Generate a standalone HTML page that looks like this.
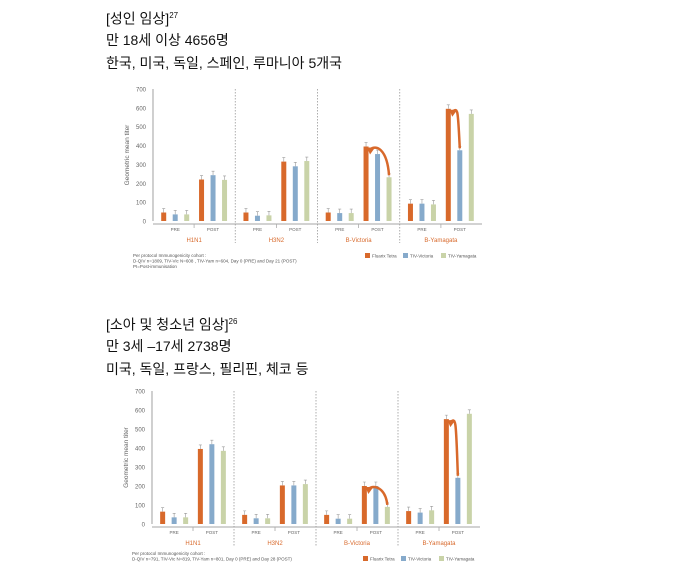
<!DOCTYPE html>
<html><head><meta charset="utf-8">
<style>
body{margin:0;width:678px;height:575px;background:#fff;position:relative;overflow:hidden;font-family:"Liberation Sans","Noto Sans CJK KR",sans-serif;}
.t{position:absolute;left:106px;font-size:14px;color:#111;white-space:nowrap;line-height:16px;}
sup{font-size:8px;}
svg{position:absolute;left:0;top:0;}
</style></head><body>
<div class="t" style="top:8px">[성인 임상]<sup>27</sup></div>
<div class="t" style="top:32px">만 18세 이상 4656명</div>
<div class="t" style="top:55px">한국, 미국, 독일, 스페인, 루마니아 5개국</div>
<div class="t" style="top:314px">[소아 및 청소년 임상]<sup>26</sup></div>
<div class="t" style="top:338px">만 3세 –17세 2738명</div>
<div class="t" style="top:361px">미국, 독일, 프랑스, 필리핀, 체코 등</div>
<svg id="svg" width="678" height="575"></svg>
<script>
const groups=["H1N1","H3N2","B-Victoria","B-Yamagata"];
const groups2=["H1N1","H3N2","B-Victoria","B-Yamagata"];
const phases=["PRE","POST"];
const seriesNames=["Fluarix Tetra","TIV-Victoria","TIV-Yamagata"];
const yTicks=[0,100,200,300,400,500,600,700];
// adult chart: [group][phase][series]
const adultFluarix=[[45,220],[45,315],[45,395],[92,595]];
const adultVictoria=[[35,243],[28,290],[42,355],[92,375]];
const adultYamagata=[[35,218],[30,318],[42,232],[88,568]];
// child chart
const childFluarix=[[65,395],[48,203],[48,200],[68,552]];
const childVictoria=[[35,420],[30,203],[28,200],[60,243]];
const childYamagata=[[35,385],[30,210],[28,90],[72,580]];

const colors=["#d8692b","#86aacb","#c9d3a8"];
const NS="http://www.w3.org/2000/svg";
const svg=document.getElementById('svg');
function mk(tag,attrs,parent){const e=document.createElementNS(NS,tag);for(const k in attrs)e.setAttribute(k,attrs[k]);(parent||svg).appendChild(e);return e;}

function drawChart(cfg,data,foot,name){
  const g=mk('g',{});
  
  
  const y=v=>cfg.y0-(v/700)*(cfg.y0-cfg.y700);
  const gw=(cfg.xr-cfg.xl)/groups.length;
  // axes
  const ax=mk('line',{x1:cfg.xl,y1:cfg.y700,x2:cfg.xl,y2:cfg.y0,stroke:'#888','stroke-width':0.8},g);
  
  const bx=mk('line',{x1:cfg.xl,y1:cfg.y0+3,x2:cfg.xr,y2:cfg.y0+3,stroke:'#888','stroke-width':0.8},g);
  
  yTicks.forEach(t=>{
    const tx=mk('text',{x:cfg.xl-7,y:y(t)+2.5,'font-size':6,fill:'#666','text-anchor':'end'},g);
    tx.textContent=t;
    
  });
  const yt=mk('text',{x:0,y:0,'font-size':6.5,fill:'#666','text-anchor':'middle',transform:`translate(${cfg.xl-24},${(cfg.y0+cfg.y700)/2}) rotate(-90)`},g);
  yt.textContent='Geometric mean titer';
  
  const tops={};
  groups.forEach((gn,gi)=>{
    const gx=cfg.xl+gi*gw;
    if(gi>0){const d=mk('line',{x1:gx,y1:cfg.y700,x2:gx,y2:cfg.y0+22,stroke:'#999','stroke-width':0.8,'stroke-dasharray':'1.5,1.5'},g);
      }
    phases.forEach((ph,pi)=>{
      const px=gx+gw*(pi===0?0.27:0.73);
      const tk=mk('line',{x1:gx+gw*0.5,y1:cfg.y0+3,x2:gx+gw*0.5,y2:cfg.y0+7,stroke:'#aaa','stroke-width':0.6},g);
      
      const pl=mk('text',{x:px,y:cfg.y0+10,'font-size':4.5,fill:'#666','text-anchor':'middle'},g);
      pl.textContent=ph;
      data.forEach((ser,si)=>{
        const v=ser[gi][pi];
        const cx=px+(si-1)*11.5;
        const r=mk('rect',{x:cx-2.5,y:y(v),width:5,height:cfg.y0-y(v),fill:colors[si]},g);
        
        
        const eb=mk('path',{d:`M${cx},${y(v)} V${y(v)-4} M${cx-1.5},${y(v)-4} H${cx+1.5}`,stroke:'#999','stroke-width':0.6,fill:'none'},g);
        
        tops[gi+'-'+pi+'-'+si]=[cx,y(v)];
      });
    });
    const gl=mk('text',{x:gx+gw/2,y:cfg.y0+21,'font-size':6,fill:'#d8692b','text-anchor':'middle'},g);
    gl.textContent=gn;
  });
  // arrows
  [[2,2],[3,1]].forEach(([gi,si])=>{
    const [sx,sy]=tops[gi+'-1-'+si];const [ex,ey]=tops[gi+'-1-0'];
    const a=mk('path',{d:`M${sx},${sy-2} C${sx-2},${ey+2} ${ex+10},${ey-2} ${ex+4},${ey+3}`,stroke:'#d8692b','stroke-width':2.5,fill:'none'},g);
    
    const h=mk('path',{d:`M${ex+1},${ey+1} L${ex+9},${ey+1} L${ex+4},${ey+8} Z`,fill:'#d8692b'},g);
    
  });
  foot.forEach((l,i)=>{
    const f=mk('text',{x:cfg.xl-20,y:cfg.footY+i*5.5,'font-size':4.5,fill:'#555'},g);
    f.textContent=l;
  });
  seriesNames.forEach((s,i)=>{
    const lx=cfg.legX+i*38;
    const r=mk('rect',{x:lx,y:cfg.legY-4,width:5,height:5,fill:colors[i]},g);
    
    const t=mk('text',{x:lx+7,y:cfg.legY+0.5,'font-size':4.5,fill:'#555'},g);
    t.textContent=s;
  });
}
drawChart({xl:153,xr:482,y0:221,y700:89,footY:257,legX:365,legY:257},[adultFluarix,adultVictoria,adultYamagata],
 ["Per protocol Immunogenicity cohort :","D-QIV n=1809, TIV-Vic N=608 , TIV-Yam n=604, Day 0 (PRE) and Day 21 (POST)","PI=Post-immunisation"],'adult-chart');
drawChart({xl:152,xr:480,y0:524,y700:391,footY:555,legX:363,legY:560},[childFluarix,childVictoria,childYamagata],
 ["Per protocol Immunogenicity cohort :","D-QIV n=791, TIV-Vic N=819, TIV-Yam n=801, Day 0 (PRE) and Day 28 (POST)"],'child-chart');
</script>
</body></html>
